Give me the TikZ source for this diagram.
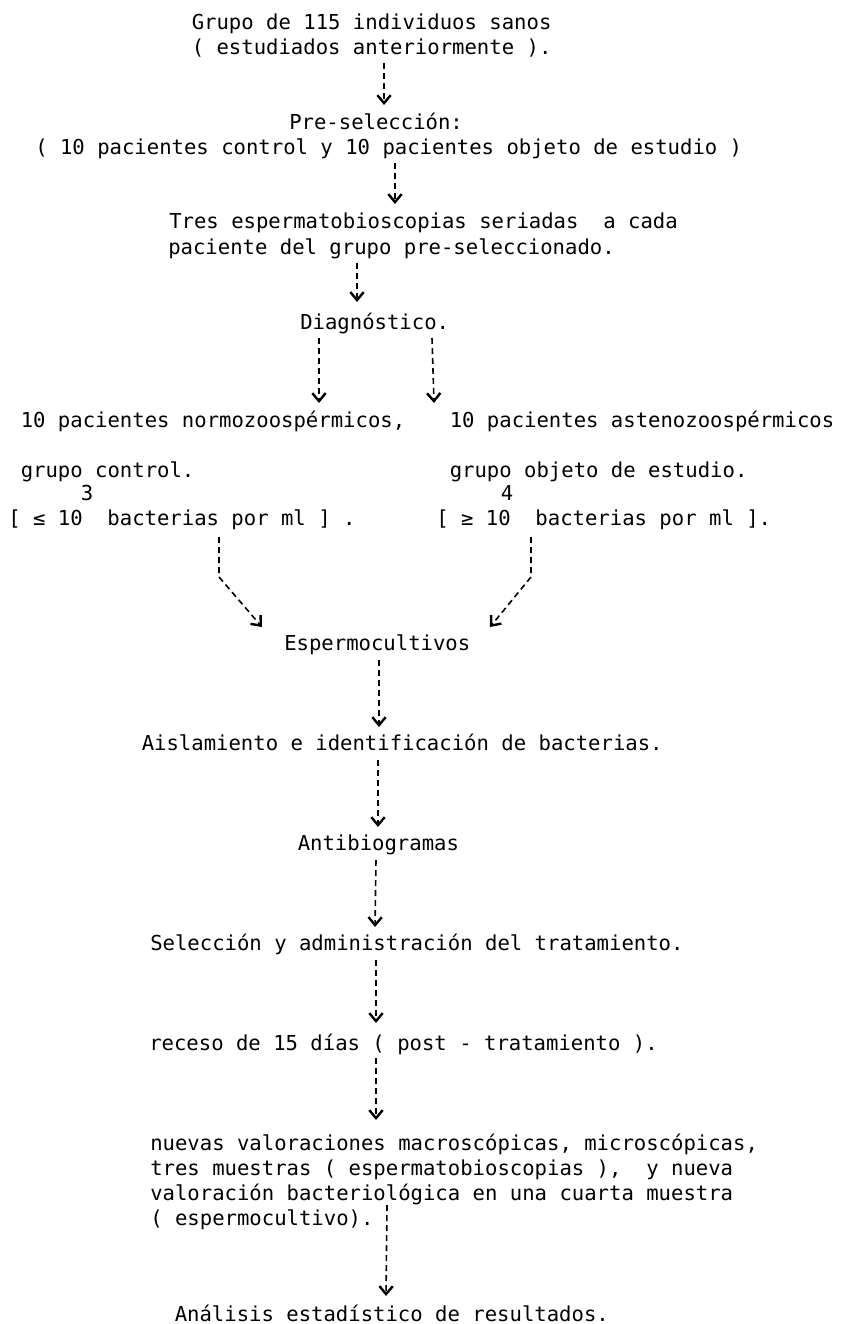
\documentclass[tikz,border=0pt]{standalone}
\usepackage{fontspec}
\newfontfamily\monofnt{DejaVu Sans Mono}
\usetikzlibrary{arrows.meta}
\begin{document}
\begin{tikzpicture}[x=0.75pt,y=-0.75pt,
  txt/.style={anchor=base west,inner sep=0pt,font=\monofnt\fontsize{15.45}{18}\selectfont},
  sup/.style={anchor=base,inner sep=0pt,font=\monofnt\fontsize{15.45}{18}\selectfont},
  flow/.style={line width=1.2pt,dash pattern=on 4.5pt off 3pt,-{Straight Barb[length=6pt,width=10pt,line width=1.8pt]}}]
\useasboundingbox (0,0) rectangle (840,1324);

% texts
\node[txt] (g1) at (191.5,29) {Grupo de 115 individuos sanos};
\node[txt] (g2) at (191.5,54) {( estudiados anteriormente ).};
\node[txt] (p1) at (289,129) {Pre-selección:};
\node[txt] (p2) at (35,154) {( 10 pacientes control y 10 pacientes objeto de estudio )};
\node[txt] (t1) at (169,228) {Tres espermatobioscopias seriadas~~a cada};
\node[txt] (t2) at (168,254) {paciente del grupo pre-seleccionado.};
\node[txt] (dg) at (300,329) {Diagnóstico.};
\node[txt] (l1) at (20.5,427) {10 pacientes normozoospérmicos,};
\node[txt] (r1) at (449.5,427) {10 pacientes astenozoospérmicos};
\node[txt] (l2) at (20.5,477) {grupo control.};
\node[txt] (r2) at (449.5,477) {grupo objeto de estudio.};
\node[sup] (l3) at (87,500) {3};
\node[sup] (r3) at (507,500) {4};
\node[txt] (l4) at (8,525) {[ ≤ 10~~bacterias por ml ] .};
\node[txt] (r4) at (436,525) {[ ≥ 10~~bacterias por ml ].};
\node[txt] (es) at (284,650) {Espermocultivos};
\node[txt] (ai) at (141.5,750) {Aislamiento e identificación de bacterias.};
\node[txt] (an) at (297.5,850) {Antibiogramas};
\node[txt] (se) at (150,950) {Selección y administración del tratamiento.};
\node[txt] (re) at (149,1050) {receso de 15 días ( post - tratamiento ).};
\node[txt] (n1) at (150,1150) {nuevas valoraciones macroscópicas, microscópicas,};
\node[txt] (n2) at (150,1175) {tres muestras ( espermatobioscopias ),~~y nueva};
\node[txt] (n3) at (150,1200) {valoración bacteriológica en una cuarta muestra};
\node[txt] (n4) at (150,1225) {( espermocultivo).};
\node[txt] (fi) at (174.5,1321) {Análisis estadístico de resultados.};

% connector ends
\coordinate (c1a) at (384,63);   \coordinate (c1b) at (384,105);
\coordinate (c2a) at (395,163);  \coordinate (c2b) at (395,204);
\coordinate (c3a) at (357,263);  \coordinate (c3b) at (357,302);
\coordinate (c4a) at (319,338);  \coordinate (c4b) at (319,403);
\coordinate (c5a) at (432,338);  \coordinate (c5b) at (434,403);
\coordinate (c6a) at (219,537);  \coordinate (c6m) at (219,577);  \coordinate (c6b) at (262,627);
\coordinate (c7a) at (531,537);  \coordinate (c7m) at (531,577);  \coordinate (c7b) at (490,627);
\coordinate (c8a) at (379,660);  \coordinate (c8b) at (379,727);
\coordinate (c9a) at (378,760);  \coordinate (c9b) at (378,827);
\coordinate (c10a) at (376,860); \coordinate (c10b) at (375,927);
\coordinate (c11a) at (376,960); \coordinate (c11b) at (376,1023);
\coordinate (c12a) at (376,1058); \coordinate (c12b) at (376,1120);
\coordinate (c13a) at (387,1205); \coordinate (c13b) at (386,1296);

\draw[flow] (c1a) -- (c1b);
\draw[flow] (c2a) -- (c2b);
\draw[flow] (c3a) -- (c3b);
\draw[flow] (c4a) -- (c4b);
\draw[flow] (c5a) -- (c5b);
\draw[flow] (c6a) -- (c6m) -- (c6b);
\draw[flow] (c7a) -- (c7m) -- (c7b);
\draw[flow] (c8a) -- (c8b);
\draw[flow] (c9a) -- (c9b);
\draw[flow] (c10a) -- (c10b);
\draw[flow] (c11a) -- (c11b);
\draw[flow] (c12a) -- (c12b);
\draw[flow] (c13a) -- (c13b);
\end{tikzpicture}
\end{document}
